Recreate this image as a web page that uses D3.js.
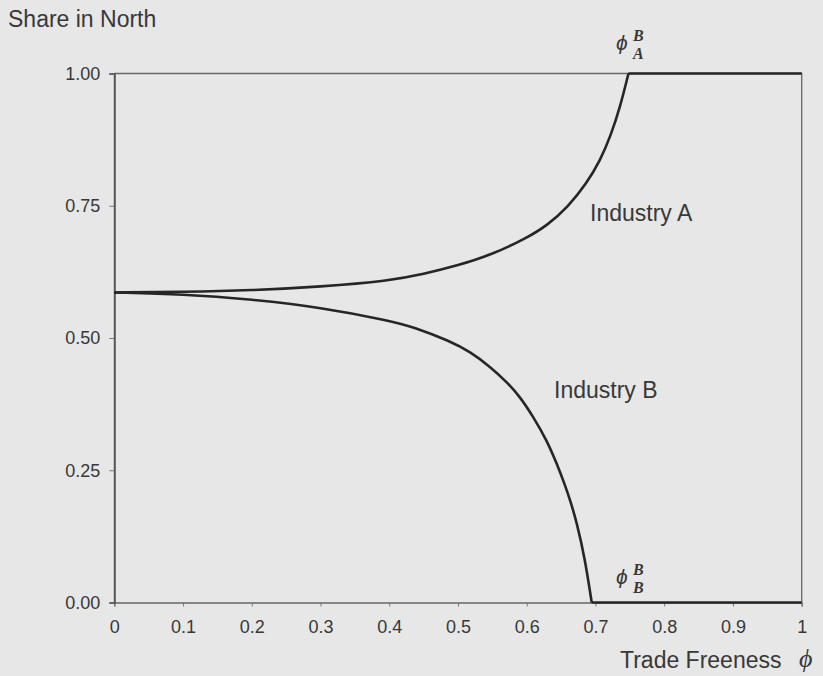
<!DOCTYPE html>
<html>
<head>
<meta charset="utf-8">
<script src="https://cdn.jsdelivr.net/npm/d3@7"></script>
<style>
  html, body { margin: 0; padding: 0; background: #e7e7e7; }
  svg { display: block; }
  text { font-family: "Liberation Sans", Arial, sans-serif; fill: #383838; }
  .math { font-family: "Liberation Serif", "DejaVu Serif", serif; font-style: italic; }
</style>
</head>
<body>
<svg id="chart" width="823" height="676"></svg>
<script>
// Trade freeness (x) and share of each industry located in the North (y)
const phiA   = [0, 0.1, 0.2, 0.3, 0.4, 0.45, 0.5, 0.55, 0.6, 0.63, 0.66, 0.687, 0.707, 0.722, 0.736, 0.748];
const shareA = [0.586, 0.587, 0.590, 0.597, 0.608, 0.621, 0.637, 0.658, 0.689, 0.713, 0.748, 0.792, 0.836, 0.882, 0.937, 1.0];

const phiB   = [0, 0.1, 0.2, 0.3, 0.4, 0.435, 0.4885, 0.5175, 0.5466, 0.5709, 0.5902, 0.6095, 0.629, 0.6436, 0.6556, 0.663, 0.6727, 0.6848, 0.6945];
const shareB = [0.586, 0.583, 0.573, 0.558, 0.533, 0.521, 0.494, 0.474, 0.446, 0.417, 0.389, 0.351, 0.307, 0.263, 0.222, 0.194, 0.152, 0.082, 0];

const xTicks = [0, 0.1, 0.2, 0.3, 0.4, 0.5, 0.6, 0.7, 0.8, 0.9, 1];
const xTickLabels = ["0", "0.1", "0.2", "0.3", "0.4", "0.5", "0.6", "0.7", "0.8", "0.9", "1"];
const yTicks = [0, 0.25, 0.5, 0.75, 1];
const yTickLabels = ["0.00", "0.25", "0.50", "0.75", "1.00"];

const svg = d3.select("#chart");
const plotLeft = 114.3, plotRight = 801.7, plotTop = 73.5, plotBottom = 602.5;

const x = d3.scaleLinear().domain([0, 1]).range([plotLeft, plotRight]);
const y = d3.scaleLinear().domain([0, 1]).range([plotBottom, plotTop]);

// frame (top and right edges)
svg.append("path")
  .attr("d", `M${x(0)},${y(1)}H${x(1)}V${y(0)}`)
  .attr("fill", "none").attr("stroke", "#666").attr("stroke-width", 1.3);

// x axis
const xAxis = d3.axisBottom(x).tickValues(xTicks)
  .tickFormat((d, i) => xTickLabels[i]).tickSize(4).tickPadding(14);
const gx = svg.append("g").attr("transform", `translate(0,${y(0)})`).call(xAxis);
gx.select(".domain").attr("stroke", "#666").attr("stroke-width", 1.3);
gx.selectAll(".tick line").attr("stroke", "#777");
gx.selectAll(".tick text").attr("font-size", 18).attr("fill", "#383838")
  .attr("font-family", "Liberation Sans, Arial, sans-serif");

// y axis
const yAxis = d3.axisLeft(y).tickValues(yTicks)
  .tickFormat((d, i) => yTickLabels[i]).tickSize(5).tickPadding(9);
const gy = svg.append("g").attr("transform", `translate(${x(0)},0)`).call(yAxis);
gy.select(".domain").attr("stroke", "#555").attr("stroke-width", 2);
gy.selectAll(".tick line").attr("stroke", "#777");
gy.selectAll(".tick text").attr("font-size", 18).attr("fill", "#383838")
  .attr("font-family", "Liberation Sans, Arial, sans-serif");

// curves: smooth rising/falling part, then flat once fully agglomerated
const line = d3.line().x(d => x(d[0])).y(d => y(d[1])).curve(d3.curveBasis);
const flat = d3.line().x(d => x(d[0])).y(d => y(d[1]));

function drawSeries(phi, share) {
  const pts = phi.map((p, i) => [p, share[i]]);
  svg.append("path").attr("d", line(pts))
    .attr("fill", "none").attr("stroke", "#262626").attr("stroke-width", 2.6)
    .attr("stroke-linejoin", "round");
  const last = pts[pts.length - 1];
  svg.append("path").attr("d", flat([last, [1, last[1]]]))
    .attr("fill", "none").attr("stroke", "#262626").attr("stroke-width", 2.6);
}
drawSeries(phiA, shareA);
drawSeries(phiB, shareB);

// labels
svg.append("text").attr("x", 8).attr("y", 27).attr("font-size", 23).text("Share in North");
svg.append("text").attr("x", 590).attr("y", 221).attr("font-size", 23).text("Industry A");
svg.append("text").attr("x", 554).attr("y", 398).attr("font-size", 23).text("Industry B");
svg.append("text").attr("x", 620).attr("y", 668).attr("font-size", 23).text("Trade Freeness");
svg.append("text").attr("class", "math").attr("x", 799).attr("y", 667)
  .attr("font-size", 26).attr("fill", "#555").text("\u03D5");

// threshold labels
function phiLabel(px, py, sub) {
  const g = svg.append("g").attr("class", "math");
  g.append("text").attr("x", px).attr("y", py).attr("font-size", 21)
    .attr("fill", "#444").text("\u03D5");
  g.append("text").attr("x", px + 17).attr("y", py - 9).attr("font-size", 16)
    .attr("font-weight", "bold").attr("fill", "#444").attr("class", "math").text("B");
  g.append("text").attr("x", px + 17).attr("y", py + 9).attr("font-size", 16)
    .attr("font-weight", "bold").attr("fill", "#444").attr("class", "math").text(sub);
}
phiLabel(616, 50, "A");
phiLabel(616, 584, "B");
</script>
</body>
</html>
